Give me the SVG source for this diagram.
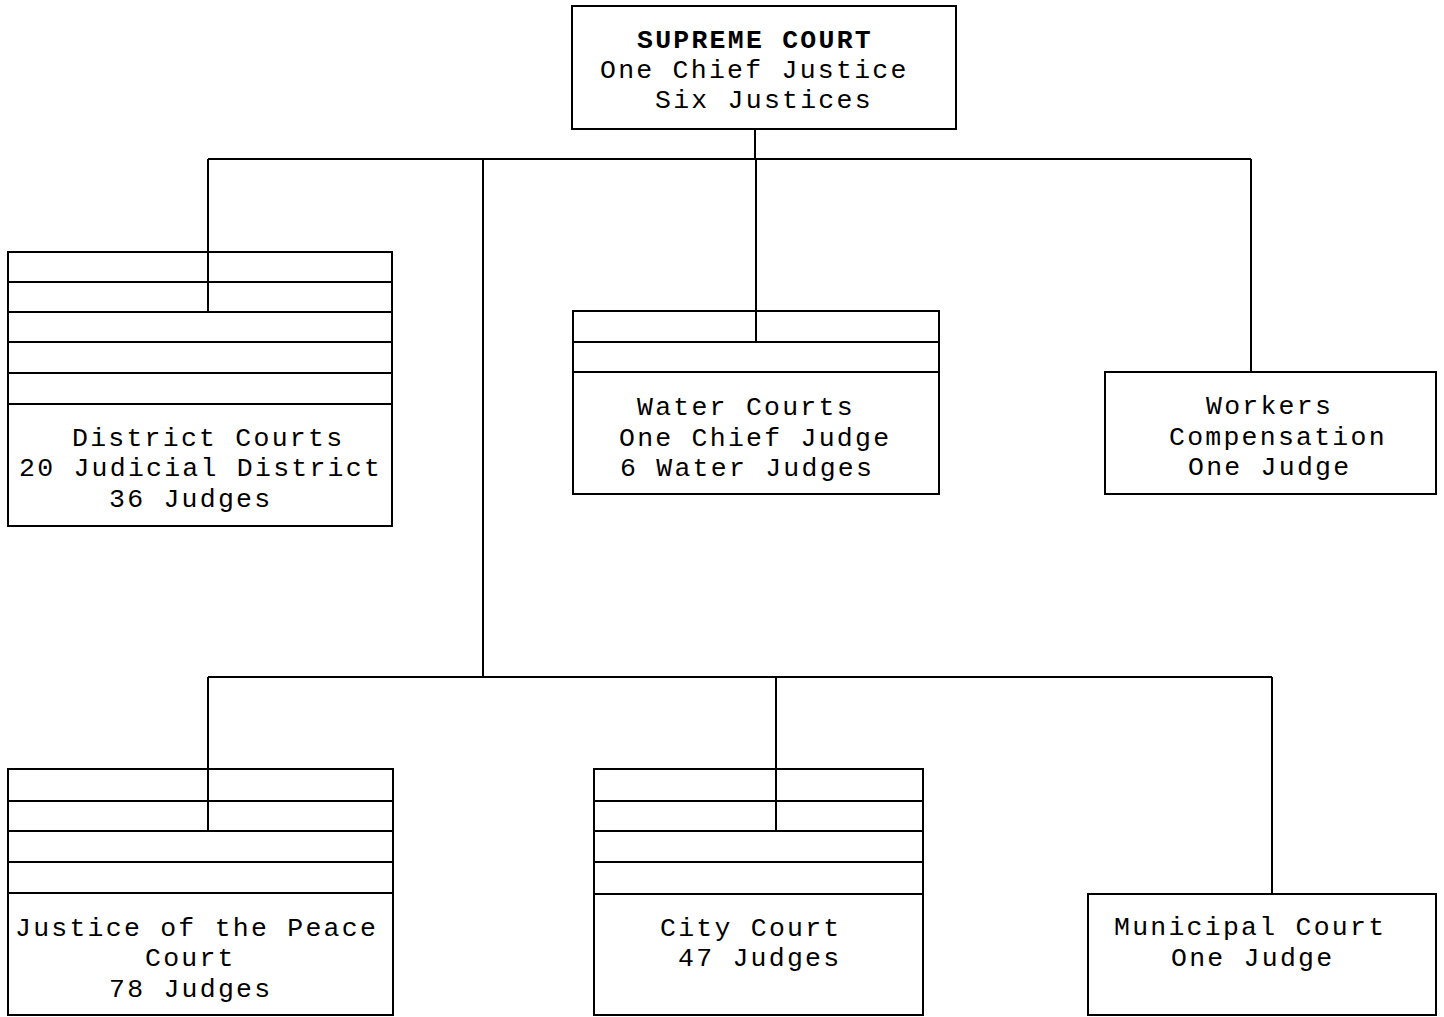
<svg xmlns="http://www.w3.org/2000/svg" width="1444" height="1017" viewBox="0 0 1444 1017">
<style>
.box{fill:#fff;stroke:#000;stroke-width:2}
.ln{stroke:#000;stroke-width:2;fill:none}
.t{font-family:"Liberation Mono","Courier New",monospace;font-size:26.5px;letter-spacing:2.25px;fill:#000}
.b{font-weight:bold}
</style>
<rect width="1444" height="1017" fill="#fff"/>
<g id="connectors">
<line class="ln" x1="755" y1="129" x2="755" y2="159"/>
<line class="ln" x1="208" y1="159" x2="1251" y2="159"/>
<line class="ln" x1="208" y1="159" x2="208" y2="251"/>
<line class="ln" x1="483" y1="159" x2="483" y2="677"/>
<line class="ln" x1="756" y1="159" x2="756" y2="311"/>
<line class="ln" x1="1251" y1="159" x2="1251" y2="372"/>
<line class="ln" x1="208" y1="677" x2="1272" y2="677"/>
<line class="ln" x1="208" y1="677" x2="208" y2="769"/>
<line class="ln" x1="776" y1="677" x2="776" y2="769"/>
<line class="ln" x1="1272" y1="677" x2="1272" y2="894"/>
</g>
<g id="supreme">
<rect class="box" x="572" y="6" width="384" height="123"/>
<text class="t b" x="637" y="48">SUPREME COURT</text>
<text class="t" x="600" y="78">One Chief Justice</text>
<text class="t" x="655" y="108">Six Justices</text>
</g>
<g id="district">
<rect class="box" x="8" y="252" width="384" height="274"/>
<line class="ln" x1="8" y1="282" x2="392" y2="282"/>
<line class="ln" x1="8" y1="312" x2="392" y2="312"/>
<line class="ln" x1="8" y1="342" x2="392" y2="342"/>
<line class="ln" x1="8" y1="373" x2="392" y2="373"/>
<line class="ln" x1="8" y1="404" x2="392" y2="404"/>
<line class="ln" x1="208" y1="252" x2="208" y2="312"/>
<text class="t" x="72" y="446">District Courts</text>
<text class="t" x="19" y="476">20 Judicial District</text>
<text class="t" x="109" y="507">36 Judges</text>
</g>
<g id="water">
<rect class="box" x="573" y="311" width="366" height="183"/>
<line class="ln" x1="573" y1="342" x2="939" y2="342"/>
<line class="ln" x1="573" y1="372" x2="939" y2="372"/>
<line class="ln" x1="756" y1="311" x2="756" y2="342"/>
<text class="t" x="637" y="415">Water Courts</text>
<text class="t" x="619" y="446">One Chief Judge</text>
<text class="t" x="620" y="476">6 Water Judges</text>
</g>
<g id="workers">
<rect class="box" x="1105" y="372" width="331" height="122"/>
<text class="t" x="1206" y="414">Workers</text>
<text class="t" x="1169" y="445">Compensation</text>
<text class="t" x="1188" y="475">One Judge</text>
</g>
<g id="jp">
<rect class="box" x="8" y="769" width="385" height="246"/>
<line class="ln" x1="8" y1="801" x2="393" y2="801"/>
<line class="ln" x1="8" y1="831" x2="393" y2="831"/>
<line class="ln" x1="8" y1="862" x2="393" y2="862"/>
<line class="ln" x1="8" y1="893" x2="393" y2="893"/>
<line class="ln" x1="208" y1="769" x2="208" y2="831"/>
<text class="t" x="15" y="936">Justice of the Peace</text>
<text class="t" x="145" y="966">Court</text>
<text class="t" x="109" y="997">78 Judges</text>
</g>
<g id="city">
<rect class="box" x="594" y="769" width="329" height="246"/>
<line class="ln" x1="594" y1="801" x2="923" y2="801"/>
<line class="ln" x1="594" y1="831" x2="923" y2="831"/>
<line class="ln" x1="594" y1="862" x2="923" y2="862"/>
<line class="ln" x1="594" y1="894" x2="923" y2="894"/>
<line class="ln" x1="776" y1="769" x2="776" y2="831"/>
<text class="t" x="660" y="936">City Court</text>
<text class="t" x="678" y="966">47 Judges</text>
</g>
<g id="municipal">
<rect class="box" x="1088" y="894" width="348" height="121"/>
<text class="t" x="1114" y="935">Municipal Court</text>
<text class="t" x="1171" y="966">One Judge</text>
</g>
</svg>
